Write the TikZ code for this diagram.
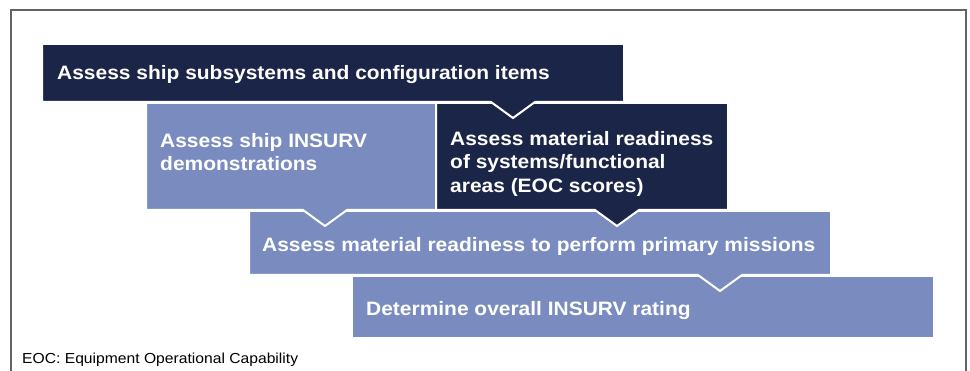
\documentclass[tikz,border=0pt]{standalone}
\usepackage{fontspec}
\setmainfont{Liberation Sans}[FakeStretch=1.08]
\definecolor{navy}{RGB}{27,37,72}
\definecolor{peri}{RGB}{122,140,191}
\definecolor{framegray}{RGB}{100,100,100}
\begin{document}
\begin{tikzpicture}[x=1pt,y=-1pt,
  boxshape/.style={draw=white, line width=2pt, line join=miter},
  darkbox/.style={boxshape, fill=navy},
  lightbox/.style={boxshape, fill=peri},
  boxtext/.style={font=\bfseries\fontsize{19.4}{23.5}\selectfont, text=white, inner sep=0pt, align=left},
  notetext/.style={font=\fontsize{14.5}{17}\selectfont, text=black, inner sep=0pt, anchor=base west}
]
\useasboundingbox (0,0) rectangle (970,371);
% frame
\draw[framegray, line width=2pt] (11,380) -- (11,10) -- (966,10) -- (966,380);
% boxes, bottom to top
\path[lightbox] (352,276) rectangle (934,338);
\path[lightbox] (249,211) -- (831,211) -- (831,275) -- (742,275) -- (720,291) -- (698,275) -- (249,275) -- cycle;
\path[lightbox] (146,103) -- (436,103) -- (436,210) -- (347,210) -- (325,226) -- (303,210) -- (146,210) -- cycle;
\path[darkbox] (436,103) -- (728,103) -- (728,210) -- (639,210) -- (617,226) -- (595,210) -- (436,210) -- cycle;
\path[darkbox] (42,44) -- (624,44) -- (624,102) -- (535,102) -- (513,118) -- (491,102) -- (42,102) -- cycle;
% texts
\node[boxtext, anchor=base west] (t1) at (57,80) {Assess ship subsystems and configuration items};
\node[boxtext, anchor=north west] (t2) at (160,133) {Assess ship INSURV\\demonstrations};
\node[boxtext, anchor=north west] (t3) at (450,131) {Assess material readiness\\of systems/functional\\areas (EOC scores)};
\node[boxtext, anchor=base west] (t4) at (262,252) {Assess material readiness to perform primary missions};
\node[boxtext, anchor=base west] (t5) at (366,316) {Determine overall INSURV rating};
\node[notetext] (note) at (22,364) {EOC: Equipment Operational Capability};
\end{tikzpicture}
\end{document}
